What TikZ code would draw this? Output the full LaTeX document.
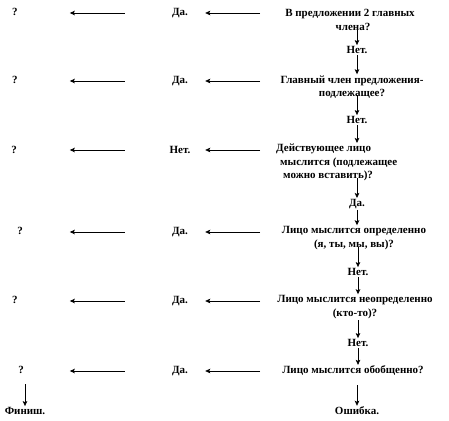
\documentclass[tikz,border=0pt]{standalone}
\usepackage{fontspec}
\setmainfont{Liberation Serif}
\usetikzlibrary{arrows.meta}
\begin{document}
\begin{tikzpicture}[
        x=1pt, y=-1pt,
        font=\fontsize{11}{13.5}\selectfont\bfseries,
        label/.style={inner sep=1pt, align=center},
        answer/.style={label, minimum width=30pt},
        flow/.style={-{Stealth[length=5pt,width=4.5pt,inset=1pt]}, line width=0.8pt}
    ]
        \useasboundingbox (0,0) rectangle (449,420);

        % Вопросы справа.
        \node[label] (q1) at (350,20) {В предложении 2 главных\\\hspace*{6pt}члена?};
        \node[label] (q2) at (352,87) {Главный член предложения-\\подлежащее?};
        \node[label, align=left, anchor=north west] (q3) at (275,143) {Действующее лицо\\\hspace*{4pt}мыслится (подлежащее\\\hspace*{7pt}можно вставить)?};
        \node[label] (q4) at (354,238) {Лицо мыслится определенно\\(я, ты, мы, вы)?};
        \node[label] (q5) at (355,307) {Лицо мыслится неопределенно\\(кто-то)?};
        \node[label] (q6) at (353,371) {Лицо мыслится обобщенно?};

        % Ответы по вертикали.
        \node[label] (v1) at (357,50) {Нет.};
        \node[label] (v2) at (357,120) {Нет.};
        \node[label] (v3) at (357,204) {Да.};
        \node[label] (v4) at (358,272) {Нет.};
        \node[label] (v5) at (358,343) {Нет.};
        \node[label] (err) at (357,411) {Ошибка.};

        % Средний столбец.
        \node[answer] (m1) at (180,13) {Да.};
        \node[answer] (m2) at (180,81) {Да.};
        \node[answer] (m3) at (180,150) {Нет.};
        \node[answer] (m4) at (180,232) {Да.};
        \node[answer] (m5) at (180,301) {Да.};
        \node[answer] (m6) at (180,371) {Да.};

        % Левый столбец.
        \node[label] (l1) at (15,12) {?};
        \node[label] (l2) at (15,80) {?};
        \node[label] (l3) at (14,150) {?};
        \node[label] (l4) at (20,231) {?};
        \node[label] (l5) at (15,300) {?};
        \node[label] (l6) at (21,370) {?};
        \node[label] (fin) at (25,411) {Финиш.};

        % Горизонтальные стрелки.
        \foreach \i in {1,...,6} {
            \draw[flow] ([xshift=65pt]m\i.east) -- ([xshift=10pt]m\i.east);
            \draw[flow] ([xshift=-40pt]m\i.west) -- ([xshift=-95pt]m\i.west);
        }

        % Вертикальные стрелки.
        \draw[flow] (v1.north |- 0,28) -- (v1.north);
        \draw[flow] (v1.south) -- (q2.north -| v1.south);
        \draw[flow] (v2.north |- 0,95) -- (v2.north);
        \draw[flow] (v2.south) -- (q3.north -| v2.south);
        \draw[flow] (v3.north |- 0,178) -- (v3.north);
        \draw[flow] (v3.south) -- (q4.north -| v3.south);
        \draw[flow] (v4.north |- 0,247) -- (v4.north);
        \draw[flow] (v4.south) -- (q5.north -| v4.south);
        \draw[flow] (v5.north |- 0,320) -- (v5.north);
        \draw[flow] (v5.south) -- (q6.north -| v5.south);
        \draw[flow] (err.north |- 0,385) -- (err.north);
        \draw[flow] (fin.north |- 0,384) -- (fin.north);
    \end{tikzpicture}
\end{document}
